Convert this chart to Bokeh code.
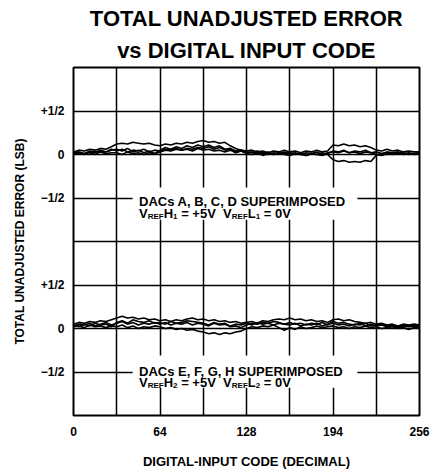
from bokeh.plotting import figure
from bokeh.models import Range1d, FixedTicker, Label, BoxAnnotation, Title
from bokeh.embed import file_html
from bokeh.resources import INLINE

# ---------------- data (LSB) ----------------
CODES = list(range(0, 257, 4))

DAC_A = [0.02, 0.03, 0.01, 0.04, 0.03, 0.05, 0.03, 0.06,
         0.04, 0.06, 0.03, 0.05, 0.04, 0.06, 0.03, 0.05,
         0.04, 0.06, 0.05, 0.07, 0.05, 0.06, 0.04, 0.07,
         0.05, 0.06, 0.04, 0.05, 0.03, 0.05, 0.02, 0.04,
         0.02, 0.03, 0.01, 0.03, 0.00, 0.02, 0.01, 0.03,
         0.01, 0.02, 0.00, 0.02, 0.01, 0.03, 0.00, 0.02,
         0.03, 0.02, 0.04, 0.02, 0.03, 0.01, 0.03, 0.02,
         0.03, 0.01, 0.03, 0.02, 0.03, 0.01, 0.02, 0.01,
         0.02]
DAC_B = [0.03, 0.05, 0.04, 0.06, 0.05, 0.07, 0.06, 0.09,
         0.12, 0.13, 0.12, 0.14, 0.13, 0.12, 0.13, 0.11,
         0.10, 0.12, 0.11, 0.13, 0.12, 0.14, 0.13, 0.15,
         0.16, 0.14, 0.15, 0.13, 0.14, 0.10, 0.07, 0.05,
         0.04, 0.05, 0.03, 0.04, 0.02, 0.04, 0.03, 0.05,
         0.03, 0.04, 0.02, 0.04, 0.03, 0.05, 0.03, 0.04,
         0.11, 0.10, 0.12, 0.10, 0.11, 0.09, 0.10, 0.08,
         0.05, 0.04, 0.06, 0.04, 0.05, 0.03, 0.04, 0.03,
         0.03]
DAC_C = [0.01, 0.02, 0.00, 0.03, 0.02, 0.04, 0.03, 0.05,
         0.06, 0.04, 0.07, 0.03, 0.05, 0.02, 0.04, 0.01,
         0.05, 0.08, 0.06, 0.09, 0.07, 0.10, 0.08, 0.11,
         0.09, 0.11, 0.08, 0.10, 0.06, 0.07, 0.04, 0.05,
         0.03, 0.02, 0.04, 0.01, 0.03, 0.00, 0.02, 0.01,
         0.02, 0.00, 0.01, -0.01, 0.01, 0.00, 0.02, 0.00,
         -0.06, -0.08, -0.07, -0.09, -0.08, -0.09, -0.07, -0.08,
         -0.01, 0.01, 0.00, 0.02, 0.01, 0.02, 0.00, 0.01,
         0.01]
DAC_D = [0.00, 0.02, 0.01, 0.02, 0.00, 0.03, 0.01, 0.02,
         0.02, 0.00, 0.03, 0.01, 0.02, 0.00, 0.02, 0.01,
         0.03, 0.05, 0.04, 0.06, 0.05, 0.07, 0.06, 0.08,
         0.07, 0.09, 0.06, 0.08, 0.05, 0.06, 0.03, 0.04,
         0.01, 0.00, 0.02, -0.01, 0.01, 0.00, 0.02, 0.00,
         -0.01, 0.01, 0.00, -0.01, 0.01, 0.00, -0.01, 0.01,
         0.04, 0.03, 0.05, 0.02, 0.04, 0.03, 0.05, 0.02,
         0.00, -0.01, 0.01, 0.00, 0.02, 0.00, 0.01, 0.00,
         0.01]

DAC_E = [0.03, 0.05, 0.04, 0.06, 0.03, 0.05, 0.07, 0.04,
         0.06, 0.08, 0.05, 0.07, 0.04, 0.06, 0.05, 0.07,
         0.05, 0.07, 0.04, 0.06, 0.05, 0.07, 0.04, 0.06,
         0.05, 0.03, 0.06, 0.04, 0.05, 0.03, 0.05, 0.04,
         0.06, 0.04, 0.07, 0.05, 0.06, 0.04, 0.06, 0.05,
         0.04, 0.06, 0.03, 0.05, 0.04, 0.06, 0.03, 0.05,
         0.06, 0.04, 0.05, 0.03, 0.05, 0.04, 0.06, 0.03,
         0.04, 0.05, 0.03, 0.04, 0.02, 0.04, 0.03, 0.04,
         0.03]
DAC_F = [0.05, 0.07, 0.06, 0.08, 0.07, 0.09, 0.08, 0.10,
         0.12, 0.14, 0.12, 0.13, 0.11, 0.12, 0.10, 0.11,
         0.09, 0.10, 0.08, 0.10, 0.09, 0.11, 0.12, 0.10,
         0.11, 0.09, 0.10, 0.08, 0.09, 0.07, 0.08, 0.06,
         0.07, 0.08, 0.06, 0.09, 0.08, 0.10, 0.11, 0.10,
         0.12, 0.10, 0.11, 0.09, 0.10, 0.08, 0.09, 0.07,
         0.10, 0.11, 0.09, 0.10, 0.08, 0.07, 0.06, 0.07,
         0.05, 0.06, 0.04, 0.05, 0.03, 0.05, 0.04, 0.05,
         0.04]
DAC_G = [0.02, 0.03, 0.01, 0.04, 0.02, 0.03, 0.01, 0.03,
         0.02, 0.04, 0.01, 0.03, 0.00, 0.02, 0.01, 0.03,
         0.02, 0.00, 0.01, -0.01, 0.00, -0.02, -0.01, -0.03,
         -0.04, -0.06, -0.05, -0.07, -0.05, -0.06, -0.04, -0.03,
         0.00, 0.02, 0.01, 0.03, 0.02, 0.04, 0.01, -0.02,
         0.01, -0.01, 0.02, 0.00, 0.01, 0.03, 0.01, 0.02,
         0.03, 0.01, 0.02, 0.00, 0.02, 0.01, 0.03, 0.01,
         0.02, 0.00, 0.01, 0.02, 0.00, 0.01, -0.01, 0.01,
         0.02]
DAC_H = [0.04, 0.02, 0.05, 0.03, 0.06, 0.04, 0.05, 0.02,
         0.07, 0.09, 0.06, 0.10, 0.08, 0.07, 0.09, 0.06,
         0.07, 0.05, 0.08, 0.06, 0.07, 0.09, 0.08, 0.07,
         0.06, 0.04, 0.07, 0.05, 0.06, 0.02, 0.03, 0.01,
         0.04, 0.06, 0.05, 0.07, 0.06, 0.08, 0.07, 0.05,
         0.07, 0.05, 0.06, 0.04, 0.06, 0.05, 0.07, 0.04,
         0.08, 0.06, 0.07, 0.05, 0.04, 0.06, 0.03, 0.05,
         0.03, 0.04, 0.02, 0.03, 0.01, 0.03, 0.02, 0.03,
         0.02]

X_TICKS = [0, 64, 128, 192, 256]
X_TICK_LABELS = ["0", "64", "128", "194", "256"]
Y_TICKS = [-0.5, 0.0, 0.5, 1.5, 2.0, 2.5]
Y_TICK_LABELS = ["\u22121/2", "0", "+1/2", "\u22121/2", "0", "+1/2"]

TITLE_1 = "TOTAL UNADJUSTED ERROR"
TITLE_2 = "vs DIGITAL INPUT CODE"
X_LABEL = "DIGITAL-INPUT CODE (DECIMAL)"
Y_LABEL = "TOTAL UNADJUSTED ERROR (LSB)"
NOTE_TOP = "DACs A, B, C, D SUPERIMPOSED"
NOTE_BOT = "DACs E, F, G, H SUPERIMPOSED"
SUB_TOP = [("V", 0), ("REF", 1), ("H", 0), ("1", 1), ("= +5V", 0), ("V", 0), ("REF", 1), ("L", 0), ("1", 1), ("= 0V", 0)]
SUB_BOT = [("V", 0), ("REF", 1), ("H", 0), ("2", 1), ("= +5V", 0), ("V", 0), ("REF", 1), ("L", 0), ("2", 1), ("= 0V", 0)]
SEG_GAP = [0, 0, 0, 0, 1, 2, 0, 0, 0, 1]   # spaces before each segment

FONT = "Liberation Sans"

# ---------------- figure ----------------
p = figure(frame_width=346, frame_height=348, output_backend="svg", toolbar_location=None,
           x_range=Range1d(0, 256), y_range=Range1d(-1, 3),
           min_border_left=73, min_border_right=15, min_border_top=67, min_border_bottom=56)
p.extra_y_ranges = {"top": Range1d(-3, 1)}

p.title.text = TITLE_1
p.title.standoff = 0
t2 = Title(text=TITLE_2, standoff=10)
p.add_layout(t2, "above")
for t in (p.title, t2):
    t.align = "center"
    t.text_font = FONT
    t.text_font_size = "22px"
    t.text_font_style = "bold"
    t.text_color = "black"

p.outline_line_color = "black"
p.outline_line_width = 2
p.background_fill_color = "white"
p.border_fill_color = "white"

p.xgrid.ticker = FixedTicker(ticks=[32, 64, 96, 128, 160, 192, 224])
p.ygrid.ticker = FixedTicker(ticks=[-0.5, 0, 0.5, 1, 1.5, 2, 2.5])
for g in (p.xgrid[0], p.ygrid[0]):
    g.grid_line_color = "black"
    g.grid_line_width = 1.5
    g.grid_line_alpha = 1.0

p.xaxis.ticker = FixedTicker(ticks=X_TICKS)
p.xaxis.major_label_overrides = dict(zip(X_TICKS, X_TICK_LABELS))
p.yaxis.ticker = FixedTicker(ticks=Y_TICKS)
p.yaxis.major_label_overrides = dict(zip(Y_TICKS, Y_TICK_LABELS))
p.xaxis.axis_label = X_LABEL
p.yaxis.axis_label = Y_LABEL
for ax in (p.xaxis[0], p.yaxis[0]):
    ax.axis_line_color = None
    ax.major_tick_line_color = None
    ax.minor_tick_line_color = None
    ax.major_tick_out = 0
    ax.major_tick_in = 0
    ax.minor_tick_out = 0
    ax.major_label_text_font = FONT
    ax.major_label_text_font_size = "12px"
    ax.major_label_text_font_style = "bold"
    ax.major_label_text_color = "black"
    ax.axis_label_text_font = FONT
    ax.axis_label_text_font_style = "bold"
    ax.axis_label_text_color = "black"
p.xaxis.major_label_standoff = 11
p.xaxis.axis_label_standoff = 15
p.xaxis.axis_label_text_font_size = "13px"
p.yaxis.major_label_standoff = 9
p.yaxis.axis_label_standoff = 11
p.yaxis.axis_label_text_font_size = "12px"

# traces
for ys in (DAC_A, DAC_B, DAC_C, DAC_D):
    p.line(CODES, ys, y_range_name="top", line_color="black", line_width=1.6)
for ys in (DAC_E, DAC_F, DAC_G, DAC_H):
    p.line(CODES, ys, line_color="black", line_width=1.6)

# ---------------- notes ----------------
W = {"V": 667, "R": 722, "E": 667, "F": 611, "H": 722, "L": 611, "1": 556, "2": 556,
     "0": 556, "5": 556, "=": 584, "+": 584, " ": 278}
BIG, SMALL = 13, 8


def width(t, s):
    return sum(W[c] for c in t) / 1000 * s


def add_note(title, segs, x0, y1, y2, box, rname):
    kw = {} if rname is None else {"y_range_name": rname}
    p.add_layout(BoxAnnotation(left=box[0], right=box[1], bottom=box[2], top=box[3],
                               fill_color="white", fill_alpha=1, line_alpha=0, **kw))
    p.add_layout(Label(x=x0, y=y1, text=title, text_font=FONT, text_font_size=f"{BIG}px",
                       text_font_style="bold", text_baseline="alphabetic",
                       text_color="black", **kw))
    off = 0.0
    for (t, sub), gap in zip(segs, SEG_GAP):
        off += gap * W[" "] / 1000 * BIG
        s = SMALL if sub else BIG
        p.add_layout(Label(x=x0, y=y2, x_offset=off, y_offset=-3 if sub else 0, text=t,
                           text_font=FONT, text_font_size=f"{s}px", text_font_style="bold",
                           text_baseline="alphabetic", text_color="black", **kw))
        off += width(t, s)


add_note(NOTE_TOP, SUB_TOP, 48.5, -0.54, -0.675, (43.7, 210.1, -0.75, -0.38), "top")
add_note(NOTE_BOT, SUB_BOT, 48.5, -0.494, -0.621, (43.7, 210.1, -0.68, -0.31), None)

open("out.html", "w").write(file_html(p, INLINE))
